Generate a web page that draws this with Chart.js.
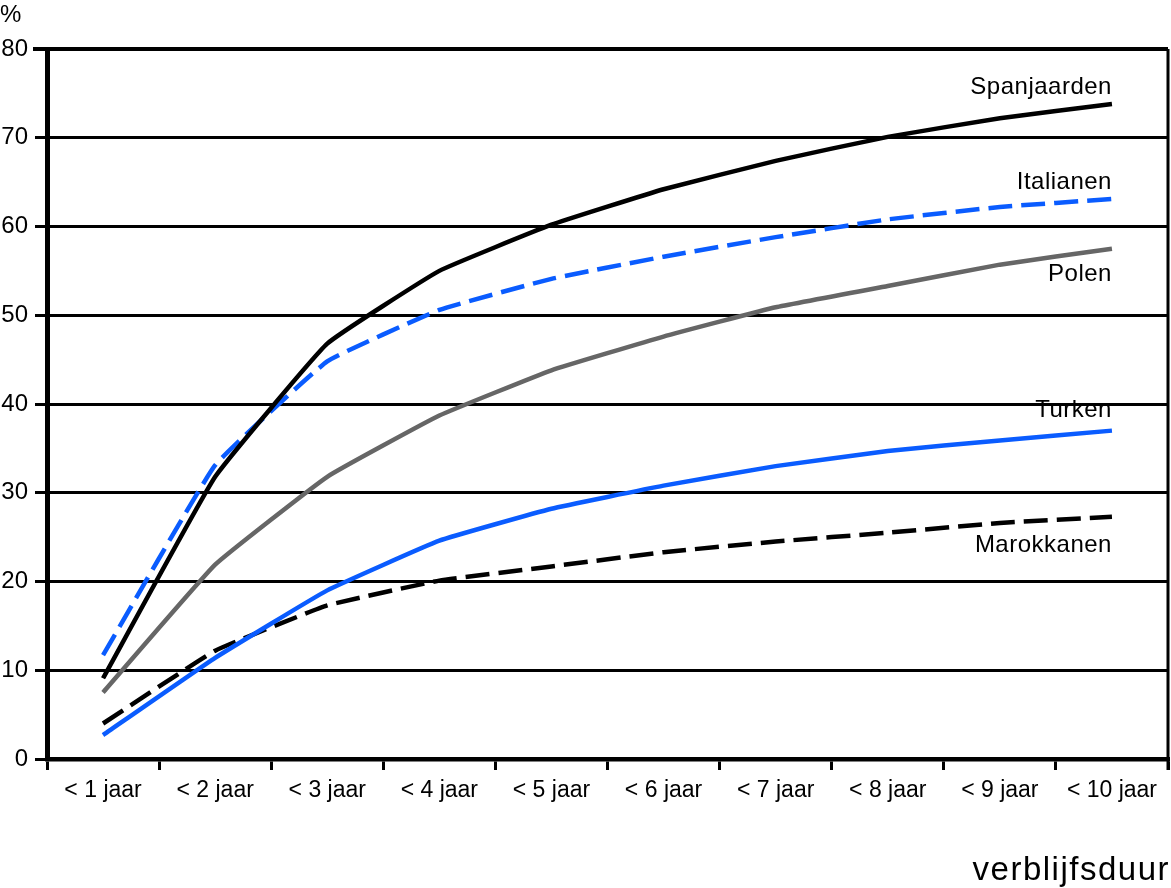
<!DOCTYPE html>
<html>
<head>
<meta charset="utf-8">
<script src="https://cdn.jsdelivr.net/npm/chart.js@4"></script>
<style>
  html, body { margin: 0; padding: 0; background: #fff; }
  #wrap { position: relative; width: 1171px; height: 888px; }
</style>
</head>
<body>
<div id="wrap"><canvas id="chart" width="1171" height="888"></canvas></div>
<script>
// Data
const categories = ['< 1 jaar', '< 2 jaar', '< 3 jaar', '< 4 jaar', '< 5 jaar',
                    '< 6 jaar', '< 7 jaar', '< 8 jaar', '< 9 jaar', '< 10 jaar'];
const spanjaarden = [9.1, 31.8, 46.8, 55.0, 60.2, 64.2, 67.4, 70.1, 72.2, 73.8];
const italianen   = [11.7, 33.1, 44.8, 50.6, 54.1, 56.6, 58.8, 60.8, 62.2, 63.1];
const polen       = [7.5, 21.9, 31.8, 38.7, 43.8, 47.6, 50.9, 53.3, 55.7, 57.5];
const turken      = [2.7, 11.4, 19.0, 24.6, 28.2, 30.8, 33.0, 34.7, 35.9, 37.0];
const marokkanen  = [4.0, 12.2, 17.3, 20.1, 21.7, 23.3, 24.5, 25.5, 26.6, 27.3];
const yTicks = [0, 10, 20, 30, 40, 50, 60, 70, 80];

const FONT = '"Liberation Sans", Arial, sans-serif';
const BLUE = '#0a5cff';

// label text offset (px) from the last point of each line
const labelOffsets = { Spanjaarden: -17, Italianen: -17, Polen: 26, Turken: -20, Marokkanen: 29 };

const endLabels = {
  id: 'endLabels',
  afterDatasetsDraw(chart) {
    const ctx = chart.ctx;
    ctx.save();
    ctx.font = '24px ' + FONT;
    ctx.fillStyle = '#000';
    ctx.textAlign = 'right';
    ctx.textBaseline = 'middle';
    ctx.letterSpacing = '0.5px';
    chart.data.datasets.forEach((ds, i) => {
      const pts = chart.getDatasetMeta(i).data;
      const p = pts[pts.length - 1];
      ctx.fillText(ds.label, p.x, p.y + labelOffsets[ds.label]);
    });
    // frame: top and right
    const a = chart.chartArea;
    ctx.strokeStyle = '#000';
    ctx.lineWidth = 4;
    ctx.beginPath();
    ctx.moveTo(a.left - 14, a.top);
    ctx.lineTo(a.right, a.top);
    ctx.stroke();
    ctx.lineWidth = 3;
    ctx.beginPath();
    ctx.moveTo(a.right, a.top);
    ctx.lineTo(a.right, a.bottom + 11);
    ctx.stroke();
    // unit and axis title
    ctx.textAlign = 'left';
    ctx.textBaseline = 'alphabetic';
    ctx.font = '24px ' + FONT;
    ctx.letterSpacing = '0px';
    ctx.fillText('%', 0, 22);
    ctx.textAlign = 'right';
    ctx.font = '33px ' + FONT;
    ctx.letterSpacing = '1.5px';
    ctx.fillText('verblijfsduur', 1170, 880);
    ctx.restore();
  }
};

function line(label, data, color, dashed) {
  return {
    label: label,
    data: data,
    borderColor: color,
    borderWidth: 4.5,
    borderDash: dashed ? [24, 9] : [],
    pointRadius: 0,
    tension: 0.1,
    fill: false
  };
}

new Chart(document.getElementById('chart').getContext('2d'), {
  type: 'line',
  data: {
    labels: categories,
    datasets: [
      line('Spanjaarden', spanjaarden, '#000', false),
      line('Italianen', italianen, BLUE, true),
      line('Polen', polen, '#666666', false),
      line('Turken', turken, BLUE, false),
      line('Marokkanen', marokkanen, '#000', true)
    ]
  },
  options: {
    responsive: false,
    animation: false,
    layout: { padding: { top: 49, right: 3, left: 0, bottom: 0 } },
    plugins: { legend: { display: false }, tooltip: { enabled: false } },
    scales: {
      x: {
        offset: true,
        grid: { offset: true, drawOnChartArea: false, drawTicks: true, tickLength: 11, lineWidth: 3, color: '#000' },
        border: { display: true, width: 4.5, color: '#000' },
        ticks: { color: '#000', font: { family: FONT, size: 23 }, padding: 7, maxRotation: 0, autoSkip: false },
        afterFit(scale) { scale.height = 129; }
      },
      y: {
        min: 0,
        max: 80,
        afterBuildTicks(scale) { scale.ticks = yTicks.map(v => ({ value: v })); },
        grid: { color: '#000', lineWidth: 3, tickLength: 12 },
        border: { display: true, width: 5, color: '#000' },
        ticks: { color: '#000', font: { family: FONT, size: 24 }, padding: 7 },
        afterFit(scale) { scale.width = 47; }
      }
    }
  },
  plugins: [endLabels]
});
</script>
</body>
</html>
